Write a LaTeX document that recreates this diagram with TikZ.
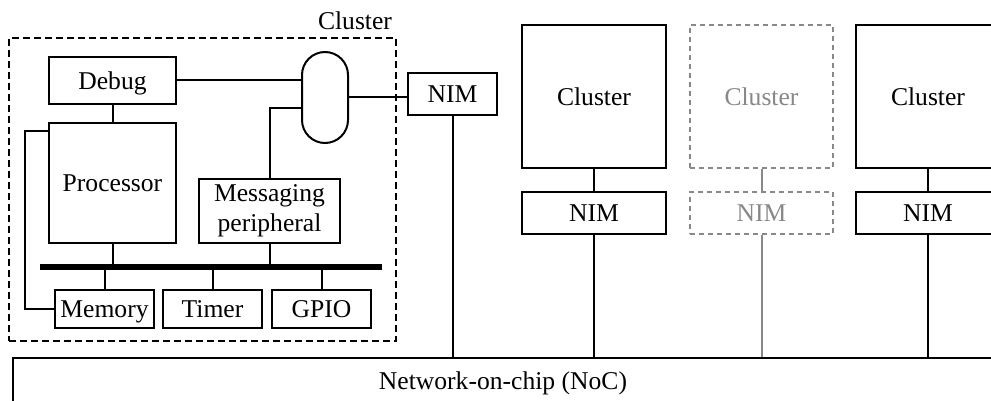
\documentclass[tikz,border=0pt]{standalone}
\usepackage{fontspec}
\setmainfont{Liberation Serif}
\usetikzlibrary{calc}
\definecolor{ghost}{HTML}{888888}
\begin{document}
\begin{tikzpicture}[x=0.5pt,y=-0.5pt,
  every node/.style={font=\fontsize{12.8}{15}\selectfont},
  box/.style={draw,line width=1pt,inner sep=0pt,align=center},
  oneline/.style={text height=8.6pt,text depth=0pt},
  ghostbox/.style={draw=ghost,text=ghost,line width=1pt,inner sep=0pt,dash pattern=on 2.5pt off 2pt},
  wire/.style={line width=1pt},
  ghostwire/.style={draw=ghost,line width=1pt},
  bus/.style={line width=3pt}]
\useasboundingbox (0,0) rectangle (991,401);
\clip (0,0) rectangle (991,401);
% local cluster frame
\node[draw,line width=1pt,dash pattern=on 3.5pt off 2pt,inner sep=0pt,minimum width=193.5pt,minimum height=151.5pt] (cl) at (202.5,189.5) {};
\node (cllabel) at (355,21) {Cluster};
% inner blocks
\node[box,oneline,minimum width=63.5pt,minimum height=23.5pt] (debug) at (112.5,80.5) {Debug};
\node[box,minimum width=63.5pt,minimum height=60pt] (proc) at (112.5,183) {Processor};
\node[box,minimum width=70.5pt,minimum height=32pt] (msg) at (269.5,211) {Messaging\\peripheral};
\node[draw,line width=1pt,inner sep=0pt,minimum width=23pt,minimum height=45.5pt,rounded corners=11.5pt] (oval) at (325,97.5) {};
\node[box,oneline,minimum width=49.5pt,minimum height=19pt] (mem) at (104.5,309) {Memory};
\node[box,oneline,minimum width=49.5pt,minimum height=19pt] (timer) at (212.5,309) {Timer};
\node[box,oneline,minimum width=49.5pt,minimum height=19pt] (gpio) at (321.5,309) {GPIO};
\coordinate (busL) at (40,267);
\coordinate (busR) at (382,267);
\draw[bus] (busL) -- (busR);
% NIM of local cluster
\node[box,oneline,minimum width=44.5pt,minimum height=21pt] (nim0) at (452.5,94) {NIM};
% other clusters
\node[box,minimum width=72pt,minimum height=71.5pt] (c1) at (594,96.5) {Cluster};
\node[box,oneline,minimum width=72pt,minimum height=21pt] (n1) at (594,213) {NIM};
\node[ghostbox,minimum width=71.5pt,minimum height=71.5pt] (c2) at (761.5,96.5) {Cluster};
\node[ghostbox,oneline,minimum width=71.5pt,minimum height=21pt] (n2) at (761.5,213) {NIM};
\node[box,minimum width=72pt,minimum height=71.5pt] (c3) at (928,96.5) {Cluster};
\node[box,oneline,minimum width=72pt,minimum height=21pt] (n3) at (928,213) {NIM};
% NoC
\node[box,minimum width=490pt,minimum height=25pt] (noc) at (503,383) {Network-on-chip (NoC)};
% connections
\draw[wire] (debug.south) -- (proc.north);
\draw[wire] (debug.east) -- (debug.east -| oval.west);
\draw[wire] (msg.north) |- ($(oval.west)+(0,10.5)$);
\draw[wire] (oval.east) -- (oval.east -| nim0.west);
\draw[wire] (proc.south) -- (proc.south |- busL);
\draw[wire] (msg.south) -- (msg.south |- busL);
\draw[wire] (mem.north) -- (mem.north |- busL);
\draw[wire] (timer.north) -- (timer.north |- busL);
\draw[wire] (gpio.north) -- (gpio.north |- busL);
\draw[wire] ($(proc.north west)+(0,9)$) -- ++(-23,0) |- (mem.west);
\draw[wire] (nim0.south) -- (nim0.south |- noc.north);
\draw[wire] (c1.south) -- (n1.north);
\draw[wire] (n1.south) -- (n1.south |- noc.north);
\draw[ghostwire] (c2.south) -- (n2.north);
\draw[ghostwire] (n2.south) -- (n2.south |- noc.north);
\draw[wire] (c3.south) -- (n3.north);
\draw[wire] (n3.south) -- (n3.south |- noc.north);
\end{tikzpicture}
\end{document}
